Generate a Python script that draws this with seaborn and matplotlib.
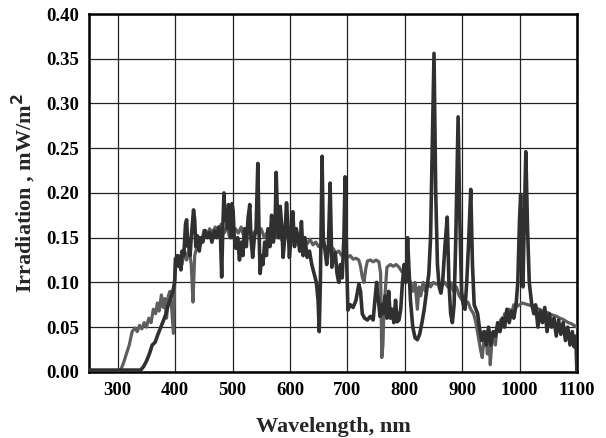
import numpy as np
import pandas as pd
import matplotlib
matplotlib.use("Agg")
import matplotlib.pyplot as plt
import seaborn as sns

# lamp spectrum (dark line): wavelength, nm / irradiation
lamp_wl = [250, 300, 340, 345, 350, 355, 360, 365, 370, 375, 380, 384, 388, 392, 396, 399,
           401, 404, 406, 408, 410, 412, 415, 418, 420, 422, 424, 426, 428, 430, 432, 434,
           436, 439, 442, 445, 448, 452, 456, 460, 464, 468, 472, 476, 479, 481, 483, 485,
           487, 489, 491, 493, 495, 497, 499, 501, 503, 506, 509, 512, 515, 518, 521, 524,
           527, 530, 532, 535, 538, 541, 544, 546, 548, 551, 553, 556, 559, 562, 565, 568,
           571, 574, 576, 578, 580, 583, 586, 588, 591, 594, 597, 599, 602, 605, 608, 611,
           614, 617, 620, 623, 626, 630, 634, 638, 642, 646, 649, 651, 653, 656, 658, 661,
           664, 667, 670, 673, 676, 679, 682, 685, 688, 691, 694, 696, 699, 701, 705, 710,
           715, 720, 723, 726, 730, 735, 740, 745, 748, 751, 754, 757, 760, 763, 766, 769,
           772, 775, 778, 781, 784, 787, 790, 793, 796, 799, 802, 805, 807, 810, 814, 818,
           822, 826, 830, 834, 838, 842, 845, 848, 851, 854, 857, 860, 863, 866, 870, 874,
           877, 880, 883, 886, 889, 893, 896, 899, 902, 905, 908, 911, 915, 918, 921, 924,
           927, 930, 934, 938, 942, 946, 950, 954, 958, 962, 966, 970, 974, 978, 982, 986,
           990, 994, 997, 1000, 1002, 1004, 1006, 1008, 1011, 1014, 1017, 1021, 1025, 1028,
           1032, 1036, 1040, 1044, 1048, 1052, 1056, 1060, 1064, 1068, 1072, 1076, 1080,
           1084, 1088, 1092, 1095, 1098, 1100]
lamp_val = [0.002, 0.002, 0.002, 0.006, 0.012, 0.02, 0.03, 0.033, 0.042, 0.05, 0.058, 0.065,
            0.075, 0.082, 0.09, 0.1, 0.125, 0.13, 0.118, 0.128, 0.114, 0.135, 0.13, 0.165,
            0.17, 0.14, 0.148, 0.13, 0.15, 0.165, 0.181, 0.17, 0.14, 0.152, 0.135, 0.15,
            0.145, 0.158, 0.15, 0.156, 0.145, 0.158, 0.15, 0.162, 0.15, 0.106, 0.16, 0.2,
            0.17, 0.18, 0.16, 0.187, 0.17, 0.15, 0.188, 0.18, 0.15, 0.138, 0.15, 0.125,
            0.145, 0.13, 0.16, 0.14, 0.172, 0.187, 0.15, 0.128, 0.15, 0.16, 0.233, 0.16,
            0.11, 0.13, 0.12, 0.145, 0.13, 0.16, 0.14, 0.175, 0.145, 0.16, 0.223, 0.18,
            0.15, 0.185, 0.16, 0.128, 0.15, 0.189, 0.16, 0.128, 0.15, 0.179, 0.14, 0.16,
            0.15, 0.135, 0.168, 0.13, 0.15, 0.128, 0.135, 0.12, 0.11, 0.1, 0.08, 0.045,
            0.1, 0.241, 0.15, 0.136, 0.12, 0.14, 0.211, 0.117, 0.13, 0.133, 0.11, 0.1,
            0.12, 0.105, 0.15, 0.218, 0.12, 0.069, 0.075, 0.072, 0.08, 0.098, 0.09, 0.065,
            0.06, 0.058, 0.062, 0.058, 0.08, 0.1, 0.08, 0.062, 0.075, 0.065, 0.085, 0.06,
            0.09, 0.06, 0.07, 0.055, 0.08, 0.056, 0.058, 0.07, 0.1, 0.12, 0.1, 0.15, 0.12,
            0.08, 0.05, 0.038, 0.036, 0.042, 0.055, 0.07, 0.09, 0.11, 0.15, 0.25, 0.356,
            0.2, 0.12, 0.095, 0.088, 0.1, 0.14, 0.173, 0.1, 0.065, 0.055, 0.075, 0.15,
            0.285, 0.17, 0.09, 0.075, 0.07, 0.1, 0.14, 0.204, 0.12, 0.075, 0.07, 0.065,
            0.05, 0.035, 0.045, 0.03, 0.05, 0.03, 0.045, 0.04, 0.055, 0.045, 0.06, 0.05,
            0.07, 0.055, 0.068, 0.06, 0.075, 0.1, 0.17, 0.198, 0.13, 0.095, 0.16, 0.246,
            0.16, 0.1, 0.077, 0.065, 0.075, 0.05, 0.068, 0.055, 0.072, 0.045, 0.065, 0.05,
            0.06, 0.04, 0.058, 0.042, 0.055, 0.035, 0.05, 0.03, 0.045, 0.028, 0.04, 0.0]

# solar spectrum (grey line)
sun_wl = [250, 300, 305, 310, 315, 320, 325, 330, 334, 338, 342, 346, 350, 354, 358, 362,
          366, 369, 372, 376, 379, 382, 385, 388, 391, 394, 397, 400, 404, 408, 412, 416,
          420, 424, 428, 431, 434, 438, 442, 446, 450, 455, 460, 465, 470, 475, 480, 485,
          490, 495, 500, 505, 510, 515, 520, 525, 530, 535, 540, 545, 550, 555, 560, 565,
          570, 575, 580, 585, 590, 595, 600, 605, 610, 615, 620, 625, 630, 635, 640, 645,
          650, 655, 660, 665, 670, 675, 680, 685, 690, 695, 700, 705, 710, 715, 720, 723,
          726, 729, 732, 735, 740, 745, 750, 755, 758, 760, 762, 764, 766, 769, 775, 780,
          785, 790, 795, 800, 805, 810, 814, 818, 822, 825, 828, 832, 836, 840, 845, 850,
          855, 860, 865, 870, 875, 880, 885, 890, 895, 900, 905, 910, 915, 920, 924, 928,
          932, 935, 938, 941, 944, 947, 949, 952, 955, 958, 961, 964, 967, 970, 974, 978,
          982, 986, 990, 995, 1000, 1005, 1010, 1015, 1020, 1025, 1030, 1035, 1040, 1045,
          1050, 1055, 1060, 1065, 1070, 1075, 1080, 1085, 1090, 1095, 1100]
sun_val = [0.0, 0.0, 0.002, 0.01, 0.02, 0.03, 0.045, 0.049, 0.045, 0.052, 0.048, 0.055,
           0.05, 0.06, 0.055, 0.07, 0.065, 0.077, 0.068, 0.086, 0.072, 0.082, 0.06, 0.085,
           0.09, 0.07, 0.043, 0.127, 0.122, 0.13, 0.12, 0.135, 0.125, 0.138, 0.12, 0.078,
           0.13, 0.14, 0.15, 0.145, 0.158, 0.152, 0.16, 0.155, 0.162, 0.152, 0.165, 0.155,
           0.162, 0.15, 0.158, 0.16, 0.155, 0.162, 0.15, 0.158, 0.16, 0.152, 0.158, 0.155,
           0.16, 0.15, 0.156, 0.152, 0.158, 0.15, 0.155, 0.148, 0.155, 0.15, 0.15, 0.154,
           0.146, 0.152, 0.145, 0.15, 0.143, 0.148, 0.142, 0.145, 0.14, 0.143, 0.138, 0.14,
           0.136, 0.138, 0.133, 0.135, 0.13, 0.131, 0.128, 0.13, 0.126, 0.127, 0.125, 0.118,
           0.106, 0.1, 0.115, 0.124, 0.125, 0.123, 0.125, 0.123, 0.11, 0.016, 0.03, 0.075,
           0.09, 0.117, 0.12, 0.118, 0.12, 0.117, 0.112, 0.11, 0.108, 0.1, 0.09, 0.1, 0.07,
           0.095, 0.085, 0.1, 0.09, 0.1, 0.095, 0.1, 0.098, 0.1, 0.097, 0.1, 0.095, 0.1,
           0.09, 0.095, 0.085, 0.08, 0.075, 0.078, 0.07, 0.065, 0.055, 0.04, 0.025, 0.016,
           0.035, 0.045, 0.02, 0.04, 0.008, 0.035, 0.045, 0.03, 0.05, 0.045, 0.058, 0.05,
           0.065, 0.06, 0.07, 0.065, 0.075, 0.073, 0.075, 0.077, 0.076, 0.075, 0.074, 0.073,
           0.071, 0.07, 0.068, 0.067, 0.066, 0.064, 0.063, 0.062, 0.06, 0.059, 0.057, 0.055,
           0.054, 0.052, 0.05]

x_ticks = [300, 400, 500, 600, 700, 800, 900, 1000, 1100]
y_ticks = [0.00, 0.05, 0.10, 0.15, 0.20, 0.25, 0.30, 0.35, 0.40]

sns.set_theme(style="white")
plt.rcParams['font.family'] = ['Liberation Serif', 'DejaVu Serif']

fig = plt.figure(figsize=(6.06, 4.38), dpi=100)
ax = fig.add_axes([0.147, 0.151, 0.805, 0.817])

sns.lineplot(x=sun_wl, y=sun_val, ax=ax, color='#5e5e5e', linewidth=2.3, zorder=3)
sns.lineplot(x=lamp_wl, y=lamp_val, ax=ax, color='#303030', linewidth=2.6, zorder=4)

ax.set_xlim(250, 1100)
ax.set_ylim(0, 0.40)
ax.set_xticks(x_ticks)
ax.set_yticks(y_ticks)
ax.set_yticklabels([f'{v:.2f}' for v in y_ticks])
ax.grid(True, color='#222222', linewidth=0.9)
ax.set_axisbelow(True)
ax.tick_params(direction='in', length=5, width=1.6, colors='black',
               labelsize=13.5, pad=7)
for lab in ax.get_xticklabels() + ax.get_yticklabels():
    lab.set_fontweight('bold')
for sp in ax.spines.values():
    sp.set_color('black')
    sp.set_linewidth(1.8)

ax.set_xlabel('Wavelength, nm', fontsize=16, fontweight='bold', labelpad=13)
ax.set_ylabel('Irradiation , mW/m$^\\mathbf{2}$', fontsize=16, fontweight='bold', labelpad=6)

fig.savefig('out.png', dpi=100)
